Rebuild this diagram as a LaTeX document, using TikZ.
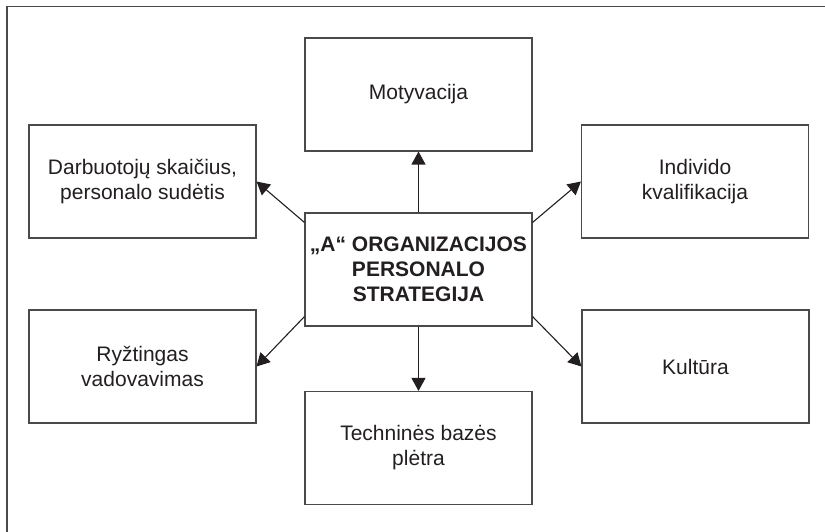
\documentclass[tikz,border=0pt]{standalone}
\usepackage{fontspec}
\setmainfont{Liberation Sans}
\usetikzlibrary{arrows.meta}
\definecolor{ink}{HTML}{231F20}
\definecolor{frame}{HTML}{4A4A4A}
\begin{document}
\begin{tikzpicture}[x=1pt,y=-1pt,
  box/.style={draw=frame, line width=1.1pt, fill=white, rectangle,
    minimum width=227pt, minimum height=113pt, inner sep=2pt,
    align=center, text=ink, font=\fontsize{21}{25}\selectfont},
  centerbox/.style={box, font=\fontsize{21}{25}\selectfont\bfseries},
  link/.style={draw=ink, line width=1.1pt, -{Triangle[length=13pt,width=14pt]}}]
  \useasboundingbox (0,0) rectangle (825,532);
  % outer frame (top and left edges)
  \draw[frame, line width=1.6pt] (825,6.5) -- (7,6.5) -- (7,532);

  % strategy in the middle
  \node[centerbox] (c) at (418.5,269.5) {„A“ ORGANIZACIJOS\\PERSONALO\\STRATEGIJA};

  % surrounding factors
  \node[box] (mot) at (418.5,94.5) {Motyvacija};
  \node[box] (darb) at (142.5,181.5) {Darbuotojų skaičius,\\personalo sudėtis};
  \node[box] (ind) at (695,181.5) {Individo\\kvalifikacija};
  \node[box] (ryz) at (142.5,366.5) {Ryžtingas\\vadovavimas};
  \node[box] (kul) at (695.5,366.5) {Kultūra};
  \node[box] (tech) at (418.5,448) {Techninės bazės\\plėtra};

  % connectors from the strategy to each factor
  \draw[link] (c.north) -- (mot.south);
  \draw[link] (c.south) -- (tech.north);
  \draw[link] ([yshift=-10pt]c.north west) -- (darb.east);
  \draw[link] ([yshift=-10pt]c.north east) -- (ind.west);
  \draw[link] ([yshift=10pt]c.south west) -- (ryz.east);
  \draw[link] ([yshift=10pt]c.south east) -- (kul.west);
\end{tikzpicture}
\end{document}
